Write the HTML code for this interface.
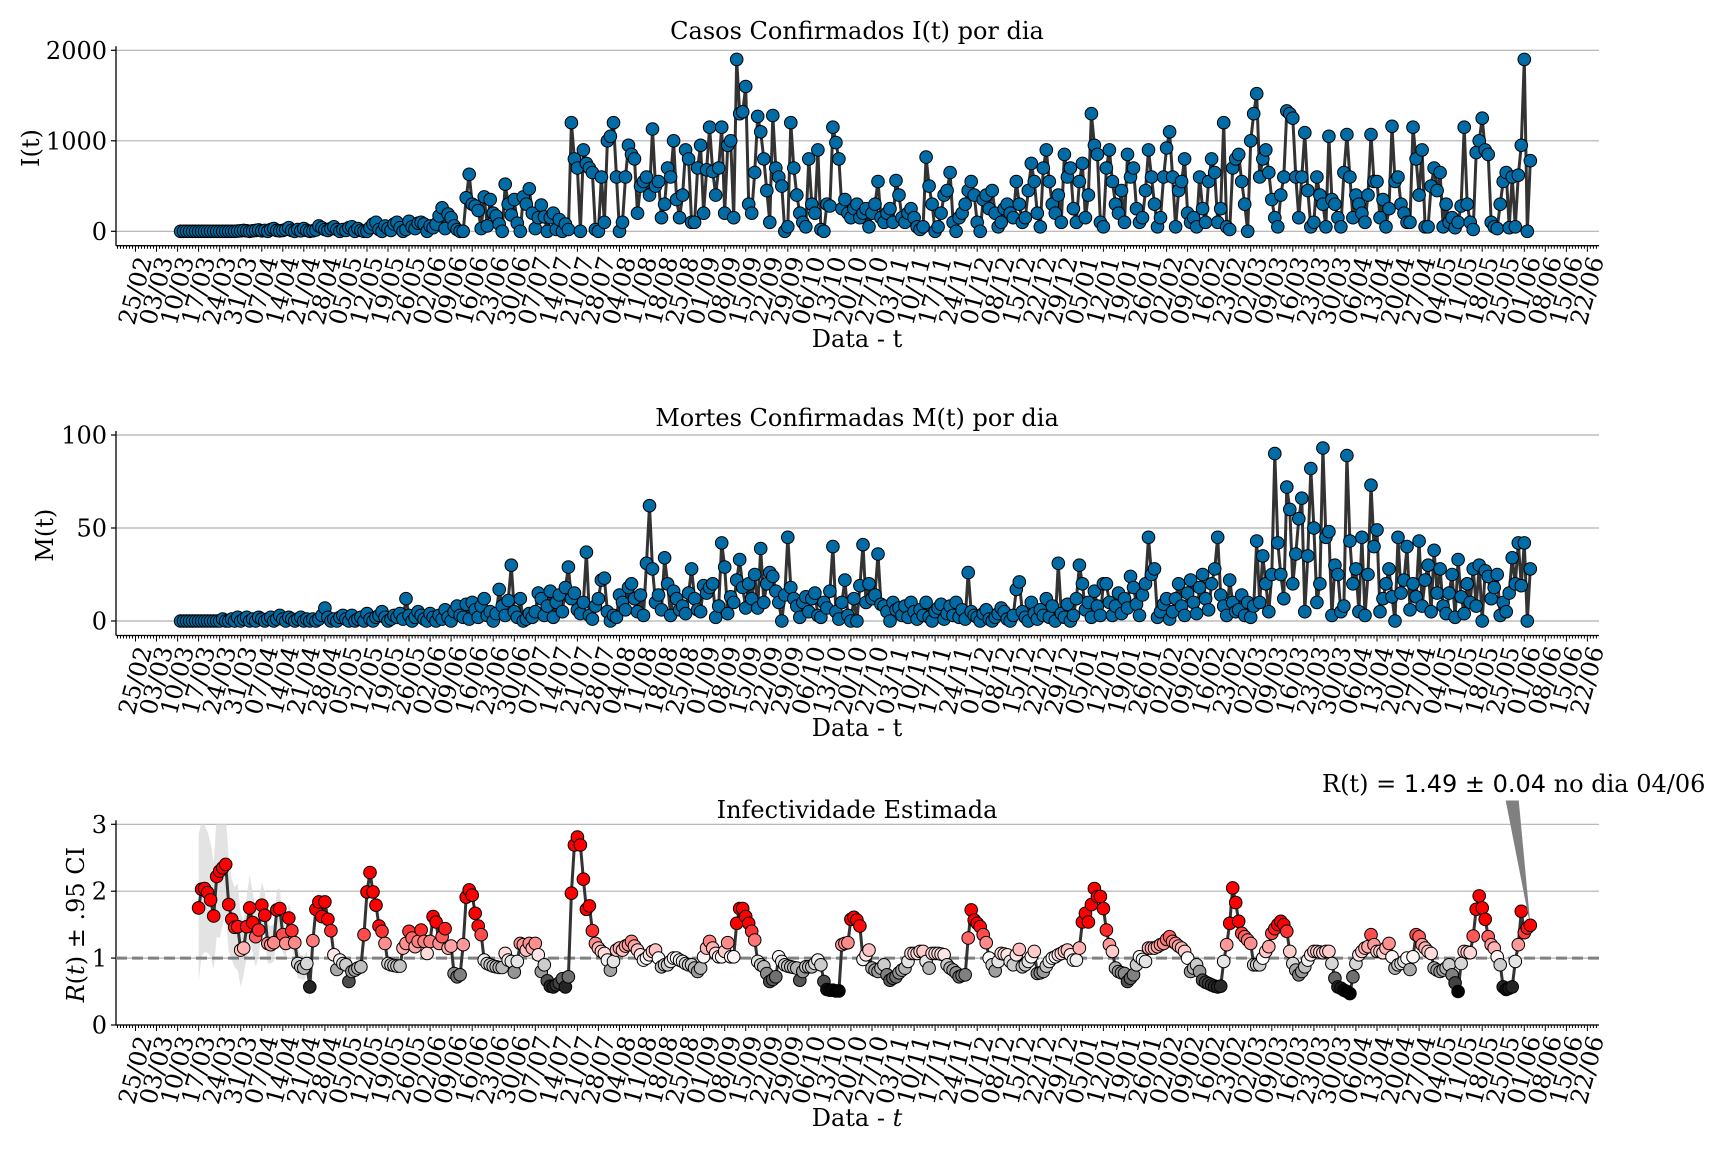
<!DOCTYPE html>
<html><head><meta charset="utf-8"><style>
html,body{margin:0;padding:0;background:#fff;}
svg{display:block;font-family:"DejaVu Serif","Liberation Serif",serif;}
</style></head><body>
<svg id="fig" xmlns="http://www.w3.org/2000/svg" width="1728" height="1152" viewBox="0 0 1728 1152">
<rect x="0" y="0" width="1728" height="1152" fill="#fff"/>
</svg>
<script>
// ---- data ----
const casesStartDay = 15; // days since 25/02/2020
const casesValues = [
0,0,0,0,0,0,0,0,0,0,0,0,0,0,0,0,0,0,0,2,5,10,5,0,5,10,15,5,10,0,
20,30,10,5,10,20,40,10,0,20,5,30,10,0,5,15,60,40,20,10,30,50,20,0,20,10,40,50,0,30,
10,0,0,40,80,100,20,0,60,30,10,80,100,40,0,20,110,50,30,90,100,80,0,60,40,80,170,260,30,190,
150,60,20,0,0,370,630,300,280,230,30,380,60,350,200,170,80,0,520,300,180,350,90,0,380,300,470,200,30,150,
290,160,0,150,200,20,130,0,80,20,1200,800,700,0,900,750,700,650,20,0,600,100,1000,1050,1200,600,0,100,600,950,
850,800,200,500,550,600,400,1130,500,550,150,300,700,600,1000,350,150,400,900,800,100,100,700,950,200,680,1150,660,400,700,
1150,200,950,1000,150,1900,1300,1320,1600,300,200,650,1270,1100,800,450,100,1280,700,600,500,0,50,1200,700,400,200,100,50,800,
300,200,900,20,0,300,280,1150,980,800,250,350,200,150,250,300,150,200,250,50,200,300,550,150,100,200,250,100,560,400,
150,100,200,250,150,50,20,50,820,500,300,0,50,200,400,450,650,100,0,150,200,300,450,550,400,100,0,350,400,250,
450,200,50,100,250,300,200,150,550,300,100,150,450,750,550,200,50,700,900,550,300,200,400,100,850,600,700,250,100,550,
750,150,400,1300,950,850,100,50,700,900,550,300,200,450,100,850,600,700,250,100,
150,450,900,600,300,50,150,600,920,1100,
600,50,450,550,800,200,100,150,50,600,
250,100,550,800,650,100,250,1200,50,20,
700,800,850,550,300,0,1000,1300,1520,600,
800,900,650,350,150,50,400,600,1330,1300,
1250,600,150,600,1090,450,50,100,600,400,
300,50,1050,350,300,150,50,650,1070,600,
150,400,300,200,100,400,1070,550,550,150,
350,50,250,1160,550,600,300,200,100,100,
1150,800,400,900,50,50,500,700,450,650,
50,300,100,150,40,100,280,1150,300,100,
20,870,1000,1250,900,850,100,50,30,300,
550,650,40,600,50,620,950,1900,0,780];
const deathsStartDay = 15;
const deathsValues = [
0,0,0,0,0,0,0,0,0,0,0,0,0,0,1,0,0,1,0,2,0,1,2,0,1,0,2,1,0,1,
2,0,1,3,1,0,2,1,0,1,2,0,1,0,1,0,1,3,7,2,0,1,0,2,3,1,0,3,0,1,
2,0,4,1,0,2,3,5,2,0,1,3,2,4,1,12,3,0,2,5,3,1,0,4,2,0,3,1,6,2,
0,5,8,3,2,9,1,10,6,2,8,12,3,5,0,4,17,8,3,11,30,5,2,12,0,1,4,2,5,15,
12,3,8,16,2,10,14,5,18,29,12,15,6,4,10,37,3,1,8,12,22,23,5,0,3,2,14,10,6,18,
20,12,5,14,3,31,62,28,10,14,6,34,20,3,16,12,6,8,4,15,28,12,6,5,19,15,18,20,2,8,
42,29,4,13,10,22,33,18,7,20,12,25,7,39,10,20,26,24,16,10,0,14,45,18,12,8,2,10,13,5,
12,15,3,2,10,7,16,40,5,1,10,22,3,0,12,0,19,41,10,20,12,14,36,9,8,5,0,10,6,7,
3,8,2,10,5,1,6,3,10,2,0,5,7,9,1,4,8,3,10,2,6,1,26,5,3,2,0,4,6,1,
0,2,4,7,5,1,0,3,17,21,5,2,0,10,4,1,6,3,12,2,8,0,31,4,2,9,0,3,12,30,
20,6,10,2,16,8,3,20,20,10,3,8,15,4,12,7,24,18,9,3,14,20,45,25,28,2,5,9,12,1,
5,12,20,8,3,15,22,10,4,18,25,12,6,20,28,45,14,8,3,22,10,5,
6,14,3,10,2,8,43,10,35,20,5,25,90,42,25,12,72,60,20,36,55,66,5,35,82,50,10,20,93,45,
48,3,30,25,5,8,89,43,20,28,5,45,3,25,73,40,49,5,12,20,28,13,0,45,15,22,40,6,20,13,
43,8,22,30,5,38,15,28,
8,4,15,25,2,33,13,4,20,10,28,8,30,0,27,24,12,18,25,3,10,5,15,34,20,42,19,42,0,28];
const rStartDay = 21;
const rValues = [
1.75,2.03,2.04,1.98,1.87,1.63,2.22,2.3,2.35,2.4,
1.8,1.58,1.46,1.47,1.12,1.15,1.47,1.75,1.53,1.32,
1.42,1.79,1.64,1.22,1.2,1.23,1.72,1.74,1.35,1.22,
1.6,1.41,1.23,0.92,0.87,0.85,0.92,0.57,1.26,1.73,
1.84,1.62,1.84,1.58,1.41,1.05,0.83,0.97,0.92,0.9,
0.65,0.8,0.82,0.85,0.87,1.35,1.99,2.28,1.99,1.79,
1.48,1.4,1.22,0.92,0.9,0.89,0.88,0.88,1.15,1.22,
1.4,1.3,1.17,1.25,1.42,1.25,1.07,1.25,1.62,1.54,
1.22,1.32,1.44,1.15,1.18,0.77,0.72,0.75,1.2,1.91,
2.02,1.94,1.67,1.48,1.35,0.97,0.92,0.9,0.88,0.87,
0.86,0.86,1.07,0.97,0.95,0.79,0.95,1.22,1.2,1.12,
1.22,1.15,1.22,1.05,0.8,0.9,0.66,0.58,0.57,0.6,
0.63,0.69,0.57,0.72,1.97,2.69,2.81,2.69,2.18,1.73,
1.78,1.41,
1.22,1.15,1.1,1.07,0.97,0.82,0.95,1.12,1.15,1.12,
1.18,1.2,1.25,1.18,1.12,1.05,0.97,1.0,1.05,1.1,
1.12,1.0,0.87,0.9,0.9,0.95,1.0,1.0,0.97,0.95,
0.92,0.9,0.9,0.85,0.8,0.85,1.02,1.15,1.25,1.15,
1.07,1.02,1.02,1.1,1.23,1.02,1.02,1.52,1.74,1.74,
1.62,1.52,1.4,1.27,0.95,0.9,0.87,0.77,0.65,0.68,
0.72,1.02,0.95,0.9,0.88,0.87,0.86,0.85,0.67,0.8,
0.87,0.87,0.87,0.92,0.97,0.9,0.65,0.53,0.52,0.52,
0.51,0.51,1.2,1.22,1.23,1.58,1.61,1.57,1.48,0.98,
1.05,1.12,0.85,0.82,0.8,0.85,0.9,0.75,0.67,0.7,
0.72,0.78,0.82,0.85,0.95,1.07,1.07,1.07,1.1,1.1,
0.95,0.85,1.07,1.07,1.07,1.06,1.05,0.9,0.85,0.82,
0.78,0.72,0.74,0.75,1.3,1.72,1.57,1.52,1.47,1.35,
1.23,1.0,0.9,0.81,0.95,1.07,1.06,1.05,0.95,0.9,
1.05,1.13,0.87,0.9,0.95,1.02,1.1,0.77,0.78,0.8,
0.88,0.95,1.0,1.02,1.05,1.07,1.1,1.12,1.05,0.97,
0.97,1.15,1.54,1.67,1.54,1.8,2.04,1.92,1.92,1.74,
1.42,1.2,1.1,0.85,0.8,0.78,0.77,0.65,0.7,0.75,
0.9,1.02,0.98,0.95,1.15,1.15,1.15,1.17,1.2,1.22,
1.28,1.32,1.25,1.22,1.18,1.15,1.1,1.0,0.8,0.85,
0.9,0.8,0.67,0.64,0.62,0.6,0.58,0.57,0.58,0.95,
1.2,1.52,2.05,1.83,1.55,1.37,1.32,1.27,1.22,0.9,
0.9,0.9,1.0,1.1,1.17,1.37,1.44,1.5,1.55,1.5,
1.4,1.1,0.92,0.82,0.75,0.8,0.87,0.97,1.05,1.1,
1.1,1.09,1.08,1.1,1.1,0.92,0.7,0.57,0.55,0.52,
0.5,0.47,0.72,0.92,1.05,1.1,1.15,1.17,1.35,1.2,
1.1,1.1,1.08,1.15,1.22,1.02,0.85,0.9,0.92,0.95,
1.0,0.83,1.02,1.35,1.32,1.2,1.15,1.1,1.07,0.85,
0.82,0.8,0.82,0.85,0.9,0.75,0.63,0.5,0.92,1.1,
1.09,1.08,1.33,1.73,1.93,1.75,1.58,1.32,1.2,1.15,
1.02,0.9,0.57,0.53,0.55,0.57,0.95,1.2,1.7,1.38,
1.45,1.49];
const rCIHalfEarly = [1.1,1.0,0.95,0.9,0.85,0.8,0.9,1.0,0.85,0.75,0.7,0.6,0.6,0.65,0.55,0.4,0.45,0.5,0.45,0.45,0.4,0.35,0.35,0.3,0.28,0.28,0.3,0.3,0.27,0.22,0.22,0.25,0.25,0.22,0.18,0.18,0.18,0.18,0.18,0.16,0.15,0.14,0.13,0.12,0.12,0.11,0.1,0.1,0.09,0.09];
const rCIHalfLate = 0.05;
const casesTicks = [0,1000,2000];
const deathsTicks = [0,50,100];
const rTicks = [0,1,2,3];

// ---- geometry ----
const NS = "http://www.w3.org/2000/svg";
const svg = document.getElementById('fig');
const XL = 116, XR = 1599, X0 = 135.5, XS = 3.006;
const FS = 24;
function xp(d){ return X0 + XS*d; }
const panels = [
  {y0:231.3, k:0.0905, bottom:245.7, top:50.3},
  {y0:621, k:1.86, bottom:635.5, top:435},
  {y0:1025, k:66.9, bottom:1025, top:824.3}
];
function yp(p, v){ return p.y0 - v*p.k; }
function el(tag, attrs, parent){
  const e = document.createElementNS(NS, tag);
  for (const a in attrs) e.setAttribute(a, attrs[a]);
  (parent||svg).appendChild(e);
  return e;
}
function pad(n){ return (n<10?'0':'')+n; }

function drawAxes(p, ticks, tickLabels, title, titleY, ylabel, ylabelX, xlabelY, italicX){
  const g = el('g', {});
  
  
  ticks.forEach((v,i)=>{
    const y = yp(p, v);
    const gl = el('line', {x1:XL, x2:XR, y1:y, y2:y, stroke:'#b0b0b0', 'stroke-width':1.2}, g);
    
    
    el('line', {x1:XL-5, x2:XL, y1:y, y2:y, stroke:'#000', 'stroke-width':1.2}, g);
    const t = el('text', {x:XL-9, y:y+8.5, 'text-anchor':'end', 'font-size':FS, fill:'#000'}, g);
    t.textContent = tickLabels[i];
    
    
  });
  const sl = el('line', {x1:XL, x2:XL, y1:p.top-4, y2:p.bottom, stroke:'#000', 'stroke-width':1.3}, g);
  
  
  const sb = el('line', {x1:XL, x2:XR, y1:p.bottom, y2:p.bottom, stroke:'#000', 'stroke-width':1.3}, g);
  
  
  let d = '';
  for (let day=-6; day<=487; day++){ const x = xp(day); if (x<XL||x>XR) continue; d += `M${x.toFixed(1)},${p.bottom}v${day%7===0?6:3}`; }
  el('path', {d:d, stroke:'#000', 'stroke-width':1}, g);
  for (let day=0; day<=483; day+=7){
    const dt = new Date(2020,1,25+day);
    const lbl = pad(dt.getDate())+'/'+pad(dt.getMonth()+1);
    const cx = xp(day), cy = p.bottom+45;
    const t = el('text', {x:cx, y:cy, 'text-anchor':'middle', 'dominant-baseline':'central', 'font-size':FS, fill:'#000', transform:`rotate(-75 ${cx} ${cy})`}, g);
    t.textContent = lbl;
    
    
  }
  const tt = el('text', {x:857, y:titleY, 'text-anchor':'middle', 'font-size':FS, fill:'#000'}, g);
  tt.textContent = title;
  
  
  const xl = el('text', {x:857, y:xlabelY, 'text-anchor':'middle', 'font-size':FS, fill:'#000'}, g);
  if (italicX){ xl.innerHTML = 'Data - <tspan font-style="italic">t</tspan>'; } else { xl.textContent = 'Data - t'; }
  
  
  const yc = (p.top + p.bottom)/2;
  const yl = el('text', {x:ylabelX, y:yc, 'text-anchor':'middle', 'dominant-baseline':'central', 'font-size':FS, fill:'#000', transform:`rotate(-90 ${ylabelX} ${yc})`}, g);
  yl.innerHTML = ylabel;
  
  
}

function drawSeries(p, startDay, values, colorFn, name){
  let d = '';
  values.forEach((v,i)=>{ d += (i?'L':'M') + xp(startDay+i).toFixed(1) + ',' + yp(p,v).toFixed(1); });
  const line = el('path', {d:d, fill:'none', stroke:'#333', 'stroke-width':3, 'stroke-linejoin':'round'});
  
  
  const g = el('g', {});
  
  
  values.forEach((v,i)=>{
    const c = el('circle', {cx:xp(startDay+i).toFixed(1), cy:yp(p,v).toFixed(1), r:6.3, fill:colorFn(v), stroke:'#000', 'stroke-width':1}, g);
    
    
  });
}
function rColor(v){
  if (v <= 1){ const t = Math.min(1,(1-v)/0.5); const c = Math.round(255*(1-t)); return `rgb(${c},${c},${c})`; }
  const t = Math.min(1,(v-1)/0.5); const c = Math.round(255*(1-t)); return `rgb(255,${c},${c})`;
}

drawAxes(panels[0], casesTicks, ['0','1000','2000'], 'Casos Confirmados I(t) por dia', 39, 'I(t)', 31, 347, false);
drawSeries(panels[0], casesStartDay, casesValues, ()=>'#006ba4', 'cases');
drawAxes(panels[1], deathsTicks, ['0','50','100'], 'Mortes Confirmadas M(t) por dia', 426, 'M(t)', 45, 736, false);
drawSeries(panels[1], deathsStartDay, deathsValues, ()=>'#006ba4', 'deaths');
const p3 = panels[2];
drawAxes(p3, rTicks, ['0','1','2','3'], 'Infectividade Estimada', 818, '<tspan font-style="italic">R</tspan>(<tspan font-style="italic">t</tspan>) ± .95 CI', 76, 1126, true);
const defs = el('defs', {});
const cp = el('clipPath', {id:'clip3'}, defs);
el('rect', {x:XL, y:p3.top, width:XR-XL, height:p3.bottom-p3.top}, cp);
let up = '', lo = [];
rValues.forEach((v,i)=>{
  const h = i < rCIHalfEarly.length ? rCIHalfEarly[i] : rCIHalfLate;
  const x = xp(rStartDay+i).toFixed(1);
  up += (i?'L':'M') + x + ',' + yp(p3, v+h).toFixed(1);
  lo.push('L' + x + ',' + yp(p3, Math.max(0,v-h)).toFixed(1));
});
const band = el('path', {d: up + lo.reverse().join('') + 'Z', fill:'#d9d9d9', 'fill-opacity':0.75, stroke:'none', 'clip-path':'url(#clip3)'});


const ref = el('line', {x1:XL, x2:XR, y1:yp(p3,1), y2:yp(p3,1), stroke:'#808080', 'stroke-width':3, 'stroke-dasharray':'11,5'});


drawSeries(p3, rStartDay, rValues, rColor, 'r');
const lastR = rValues[rValues.length-1];
const lastX = xp(rStartDay + rValues.length - 1), lastY = yp(p3, lastR);
const arrow = el('polygon', {points:`${lastX-24},801 ${lastX-12},801 ${lastX-1},${lastY-7}`, fill:'#808080', stroke:'#808080', 'stroke-width':1});


const ann = el('text', {x:1322, y:792, 'font-size':FS, fill:'#000'});
ann.innerHTML = 'R(t) = <tspan font-family="DejaVu Sans, Liberation Sans, sans-serif">' + lastR.toFixed(2) + ' ± 0.04</tspan> no dia 04/06';


</script>
</body></html>
